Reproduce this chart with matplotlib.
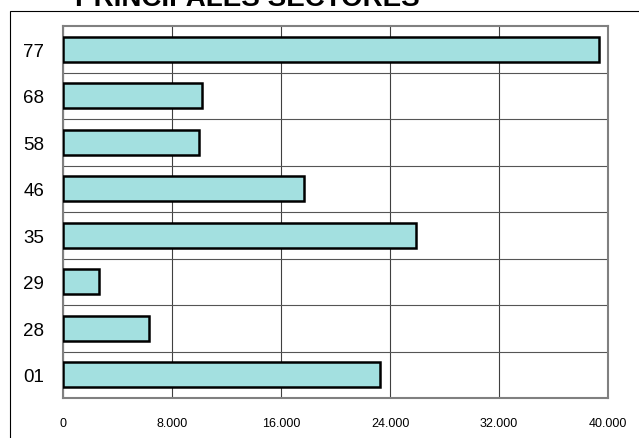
import numpy as np
import matplotlib.pyplot as plt
from matplotlib.patches import Rectangle

plt.rcParams['font.family'] = ['Liberation Sans', 'DejaVu Sans']

sectores = ['01', '28', '29', '35', '46', '58', '68', '77']
valores = [23300, 6300, 2650, 25900, 17700, 9950, 10200, 39350]
xticks = [0, 8000, 16000, 24000, 32000, 40000]
xlabels = ['0', '8.000', '16.000', '24.000', '32.000', '40.000']

fig = plt.figure(figsize=(6.39, 4.39), dpi=100)
ax = fig.add_axes([63 / 639, 1 - 399 / 439, 545 / 639, 372 / 439])

# marco exterior del grafico (cortado a la derecha y abajo)
fig.patches.append(Rectangle((10 / 639, -0.2), 1.2, 1.2 - 12 / 439 + 0.0,
                             transform=fig.transFigure, fill=False,
                             edgecolor='black', linewidth=0.8, clip_on=False))

y = np.arange(len(sectores))
ax.barh(y, valores, height=0.53, color='#a3e0e0', edgecolor='black',
        linewidth=1.8, zorder=3)

ax.set_xlim(0, 40000)
ax.set_ylim(-0.5, len(sectores) - 0.5)
ax.set_xticks(xticks)
ax.set_xticklabels(xlabels, fontsize=9)
ax.set_yticks(y)
ax.set_yticklabels(sectores, fontsize=13.5)
ax.set_yticks(np.arange(0.5, len(sectores) - 0.5, 1), minor=True)
ax.tick_params(axis='x', length=0, pad=13.5)
ax.tick_params(axis='y', which='both', length=0, pad=13.5)

ax.grid(axis='x', which='major', color='#404040', linewidth=0.8, zorder=1)
ax.grid(axis='y', which='minor', color='#555555', linewidth=0.8, zorder=1)

for s in ax.spines.values():
    s.set_color('#808080')
    s.set_linewidth(1.5)

fig.text(75 / 639, 1 - 6 / 439, 'PRINCIPALES SECTORES', fontsize=20,
         fontweight='bold', va='baseline', ha='left')

fig.savefig('out.png', dpi=100)
